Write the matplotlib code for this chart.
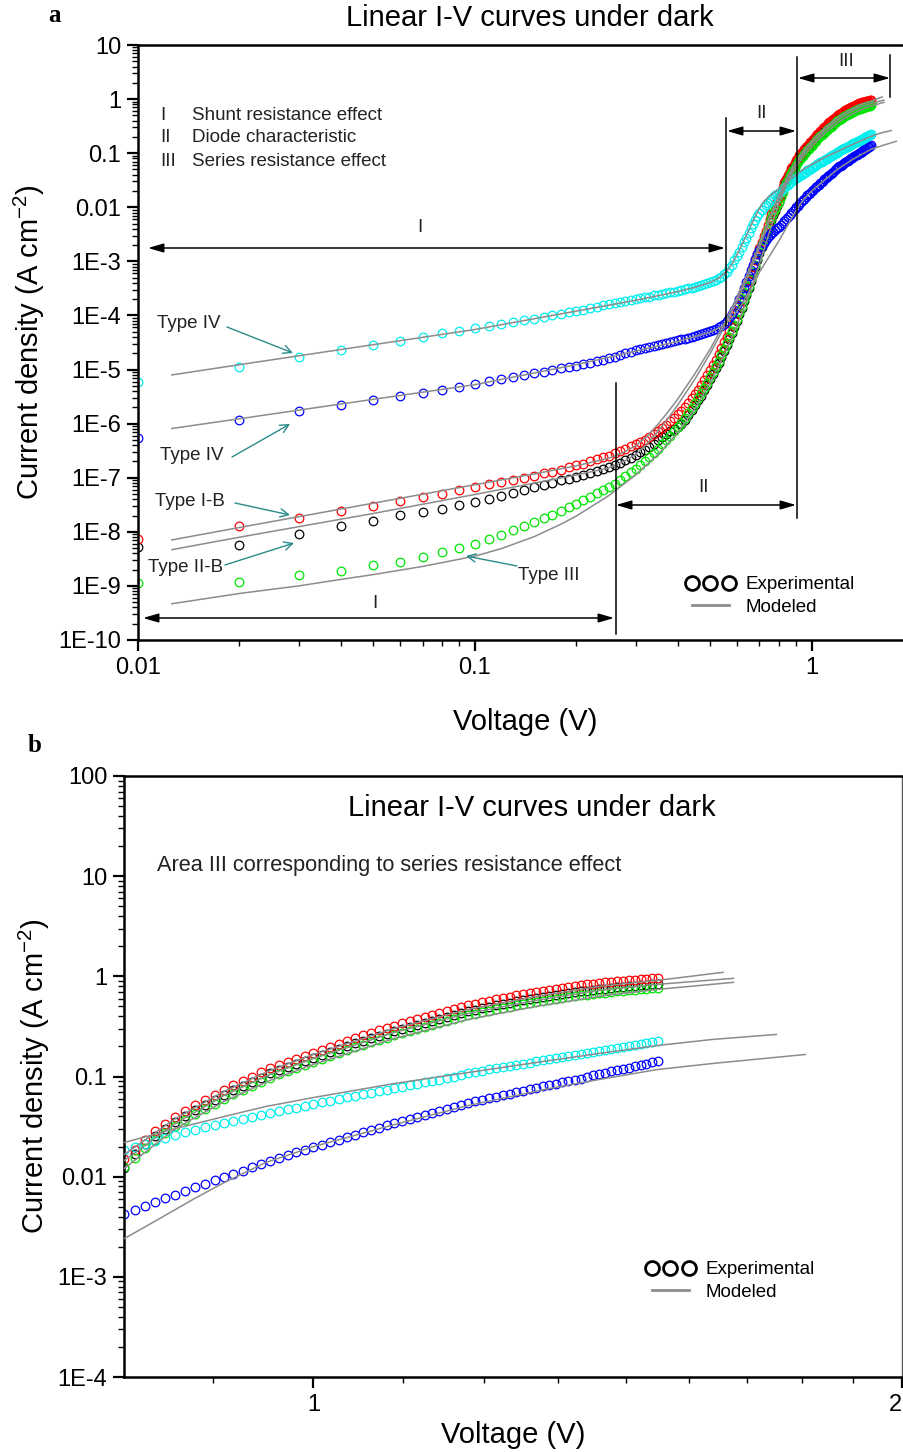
import numpy as np
import matplotlib
matplotlib.use("Agg")
import matplotlib.pyplot as plt
from matplotlib.lines import Line2D
from matplotlib.patches import FancyArrowPatch
from matplotlib.ticker import LogLocator, FixedLocator, NullFormatter

plt.rcParams['font.family'] = ['Liberation Sans', 'DejaVu Sans']
plt.rcParams['mathtext.fontset'] = 'custom'
plt.rcParams['mathtext.rm'] = 'Liberation Sans'

# measured bias points (V)
voltage = [
    0.01, 0.02, 0.03, 0.04, 0.05, 0.06, 0.07, 0.08, 0.09, 0.10,
    0.11, 0.12, 0.13, 0.14, 0.15, 0.16, 0.17, 0.18, 0.19, 0.20,
    0.21, 0.22, 0.23, 0.24, 0.25, 0.26, 0.27, 0.28, 0.29, 0.30,
    0.31, 0.32, 0.33, 0.34, 0.35, 0.36, 0.37, 0.38, 0.39, 0.40,
    0.41, 0.42, 0.43, 0.44, 0.45, 0.46, 0.47, 0.48, 0.49, 0.50,
    0.51, 0.52, 0.53, 0.54, 0.55, 0.56, 0.57, 0.58, 0.59, 0.60,
    0.61, 0.62, 0.63, 0.64, 0.65, 0.66, 0.67, 0.68, 0.69, 0.70,
    0.71, 0.72, 0.73, 0.74, 0.75, 0.76, 0.77, 0.78, 0.79, 0.80,
    0.81, 0.82, 0.83, 0.84, 0.85, 0.86, 0.87, 0.88, 0.89, 0.90,
    0.91, 0.92, 0.93, 0.94, 0.95, 0.96, 0.97, 0.98, 0.99, 1.00,
    1.01, 1.02, 1.03, 1.04, 1.05, 1.06, 1.07, 1.08, 1.09, 1.10,
    1.11, 1.12, 1.13, 1.14, 1.15, 1.16, 1.17, 1.18, 1.19, 1.20,
    1.21, 1.22, 1.23, 1.24, 1.25, 1.26, 1.27, 1.28, 1.29, 1.30,
    1.31, 1.32, 1.33, 1.34, 1.35, 1.36, 1.37, 1.38, 1.39, 1.40,
    1.41, 1.42, 1.43, 1.44, 1.45, 1.46, 1.47, 1.48, 1.49, 1.50,
]

# experimental current density, log10(J / A cm^-2)
cyan_log_j = [
    -5.23, -4.95, -4.77, -4.64, -4.55, -4.47, -4.40, -4.33, -4.28, -4.24,
    -4.20, -4.16, -4.12, -4.09, -4.06, -4.03, -4.00, -3.97, -3.94, -3.91,
    -3.89, -3.86, -3.84, -3.81, -3.79, -3.77, -3.75, -3.73, -3.71, -3.70,
    -3.68, -3.66, -3.65, -3.63, -3.62, -3.60, -3.59, -3.57, -3.56, -3.54,
    -3.53, -3.52, -3.50, -3.49, -3.47, -3.46, -3.44, -3.42, -3.40, -3.38,
    -3.36, -3.34, -3.31, -3.28, -3.24, -3.19, -3.13, -3.06, -2.98, -2.90,
    -2.82, -2.73, -2.64, -2.56, -2.47, -2.39, -2.31, -2.24, -2.17, -2.10,
    -2.05, -2.00, -1.96, -1.92, -1.88, -1.84, -1.81, -1.78, -1.76, -1.73,
    -1.70, -1.67, -1.64, -1.61, -1.58, -1.55, -1.53, -1.50, -1.48, -1.46,
    -1.44, -1.42, -1.40, -1.38, -1.36, -1.34, -1.32, -1.31, -1.29, -1.27,
    -1.25, -1.24, -1.22, -1.20, -1.19, -1.17, -1.16, -1.14, -1.13, -1.11,
    -1.10, -1.08, -1.07, -1.05, -1.04, -1.03, -1.01, -1.00, -0.99, -0.97,
    -0.96, -0.95, -0.93, -0.92, -0.91, -0.90, -0.89, -0.88, -0.87, -0.85,
    -0.84, -0.83, -0.82, -0.81, -0.80, -0.79, -0.78, -0.77, -0.76, -0.75,
    -0.74, -0.73, -0.72, -0.71, -0.70, -0.69, -0.68, -0.67, -0.66, -0.65,
]
blue_log_j = [
    -6.27, -5.94, -5.77, -5.65, -5.56, -5.49, -5.43, -5.37, -5.32, -5.27,
    -5.22, -5.17, -5.13, -5.10, -5.07, -5.04, -5.01, -4.98, -4.96, -4.93,
    -4.90, -4.87, -4.85, -4.82, -4.79, -4.76, -4.73, -4.70, -4.67, -4.64,
    -4.62, -4.60, -4.58, -4.56, -4.54, -4.52, -4.51, -4.49, -4.47, -4.46,
    -4.44, -4.43, -4.41, -4.40, -4.38, -4.36, -4.35, -4.33, -4.31, -4.29,
    -4.27, -4.25, -4.22, -4.19, -4.15, -4.10, -4.04, -3.97, -3.89, -3.80,
    -3.70, -3.60, -3.49, -3.38, -3.27, -3.16, -3.06, -2.96, -2.87, -2.79,
    -2.72, -2.66, -2.60, -2.55, -2.51, -2.48, -2.45, -2.42, -2.39, -2.37,
    -2.33, -2.29, -2.25, -2.21, -2.18, -2.14, -2.10, -2.07, -2.03, -2.00,
    -1.97, -1.94, -1.90, -1.87, -1.84, -1.81, -1.78, -1.75, -1.73, -1.70,
    -1.68, -1.65, -1.63, -1.60, -1.58, -1.55, -1.53, -1.51, -1.48, -1.46,
    -1.44, -1.42, -1.40, -1.38, -1.36, -1.34, -1.32, -1.30, -1.28, -1.26,
    -1.24, -1.23, -1.21, -1.20, -1.18, -1.17, -1.15, -1.14, -1.12, -1.11,
    -1.09, -1.08, -1.07, -1.05, -1.04, -1.03, -1.02, -1.00, -0.99, -0.98,
    -0.97, -0.95, -0.94, -0.93, -0.92, -0.90, -0.89, -0.88, -0.86, -0.85,
]
red_log_j = [
    -8.13, -7.89, -7.75, -7.61, -7.52, -7.43, -7.36, -7.30, -7.23, -7.17,
    -7.12, -7.08, -7.04, -7.00, -6.96, -6.92, -6.89, -6.85, -6.81, -6.77,
    -6.74, -6.70, -6.66, -6.62, -6.59, -6.55, -6.51, -6.47, -6.42, -6.38,
    -6.34, -6.30, -6.25, -6.20, -6.14, -6.08, -6.02, -5.96, -5.90, -5.83,
    -5.76, -5.69, -5.61, -5.53, -5.45, -5.37, -5.28, -5.19, -5.10, -5.01,
    -4.92, -4.82, -4.72, -4.61, -4.50, -4.39, -4.28, -4.17, -4.06, -3.94,
    -3.82, -3.70, -3.58, -3.46, -3.34, -3.22, -3.10, -2.98, -2.87, -2.76,
    -2.65, -2.54, -2.43, -2.32, -2.22, -2.12, -2.03, -1.95, -1.88, -1.82,
    -1.73, -1.63, -1.54, -1.47, -1.40, -1.34, -1.28, -1.23, -1.18, -1.13,
    -1.08, -1.04, -1.00, -0.96, -0.92, -0.89, -0.86, -0.83, -0.80, -0.77,
    -0.74, -0.71, -0.68, -0.65, -0.62, -0.59, -0.57, -0.54, -0.52, -0.50,
    -0.47, -0.45, -0.43, -0.41, -0.39, -0.37, -0.35, -0.33, -0.31, -0.29,
    -0.28, -0.26, -0.25, -0.23, -0.22, -0.21, -0.19, -0.18, -0.17, -0.16,
    -0.15, -0.14, -0.13, -0.12, -0.11, -0.10, -0.09, -0.08, -0.08, -0.07,
    -0.06, -0.06, -0.05, -0.05, -0.04, -0.04, -0.03, -0.03, -0.02, -0.02,
]
black_log_j = [
    -8.28, -8.24, -8.04, -7.89, -7.80, -7.68, -7.63, -7.57, -7.50, -7.44,
    -7.39, -7.34, -7.28, -7.23, -7.18, -7.14, -7.09, -7.05, -7.02, -6.98,
    -6.95, -6.91, -6.88, -6.84, -6.80, -6.76, -6.72, -6.68, -6.63, -6.58,
    -6.53, -6.48, -6.43, -6.37, -6.31, -6.24, -6.19, -6.14, -6.10, -6.07,
    -6.01, -5.93, -5.84, -5.75, -5.66, -5.57, -5.48, -5.38, -5.28, -5.18,
    -5.08, -4.98, -4.88, -4.77, -4.66, -4.55, -4.44, -4.33, -4.22, -4.10,
    -3.98, -3.86, -3.74, -3.62, -3.50, -3.37, -3.24, -3.11, -2.98, -2.85,
    -2.74, -2.64, -2.54, -2.44, -2.34, -2.24, -2.15, -2.06, -1.98, -1.91,
    -1.77, -1.67, -1.59, -1.52, -1.45, -1.39, -1.33, -1.28, -1.23, -1.18,
    -1.13, -1.09, -1.05, -1.01, -0.97, -0.94, -0.91, -0.88, -0.85, -0.82,
    -0.79, -0.76, -0.73, -0.70, -0.67, -0.65, -0.62, -0.60, -0.58, -0.55,
    -0.53, -0.51, -0.49, -0.47, -0.45, -0.43, -0.41, -0.39, -0.37, -0.35,
    -0.34, -0.32, -0.31, -0.29, -0.28, -0.27, -0.25, -0.24, -0.23, -0.22,
    -0.21, -0.20, -0.19, -0.18, -0.17, -0.16, -0.15, -0.145, -0.14, -0.13,
    -0.125, -0.12, -0.11, -0.105, -0.10, -0.095, -0.09, -0.085, -0.08, -0.075,
]
green_log_j = [
    -8.95, -8.93, -8.80, -8.72, -8.62, -8.55, -8.46, -8.38, -8.30, -8.23,
    -8.14, -8.05, -7.97, -7.89, -7.82, -7.75, -7.68, -7.61, -7.54, -7.48,
    -7.42, -7.35, -7.29, -7.23, -7.17, -7.11, -7.04, -6.97, -6.90, -6.83,
    -6.76, -6.69, -6.61, -6.54, -6.46, -6.38, -6.30, -6.22, -6.14, -6.06,
    -5.98, -5.89, -5.80, -5.71, -5.62, -5.53, -5.44, -5.34, -5.24, -5.14,
    -5.04, -4.94, -4.84, -4.73, -4.62, -4.51, -4.40, -4.29, -4.18, -4.06,
    -3.94, -3.82, -3.70, -3.58, -3.46, -3.33, -3.20, -3.07, -2.94, -2.81,
    -2.70, -2.60, -2.50, -2.40, -2.30, -2.20, -2.11, -2.03, -1.96, -1.90,
    -1.81, -1.71, -1.63, -1.56, -1.49, -1.43, -1.37, -1.32, -1.27, -1.22,
    -1.17, -1.13, -1.09, -1.05, -1.01, -0.98, -0.95, -0.92, -0.89, -0.86,
    -0.83, -0.80, -0.77, -0.74, -0.71, -0.69, -0.66, -0.64, -0.62, -0.59,
    -0.57, -0.55, -0.53, -0.51, -0.49, -0.47, -0.45, -0.43, -0.41, -0.39,
    -0.38, -0.36, -0.35, -0.33, -0.32, -0.31, -0.29, -0.28, -0.27, -0.26,
    -0.25, -0.24, -0.23, -0.22, -0.21, -0.20, -0.19, -0.185, -0.18, -0.17,
    -0.165, -0.16, -0.15, -0.145, -0.14, -0.135, -0.13, -0.125, -0.12, -0.115,
]

# modeled curves (vertices)
cyan_model_v = [0.0126, 0.02, 0.05, 0.1, 0.2, 0.3, 0.4, 0.45, 0.5, 0.53, 0.56, 0.58,
                0.6, 0.62, 0.64, 0.66, 0.68, 0.7, 0.72, 0.75, 0.8, 0.85, 0.9, 0.945,
                1.0, 1.1, 1.2, 1.3, 1.4, 1.5, 1.6, 1.725]
cyan_model_log_j = [-5.10, -4.91, -4.54, -4.26, -3.92, -3.72, -3.56, -3.48, -3.39, -3.31, -3.18, -3.05,
                    -2.88, -2.70, -2.52, -2.34, -2.17, -2.02, -1.90, -1.79, -1.66, -1.52, -1.40, -1.30,
                    -1.21, -1.07, -0.96, -0.86, -0.77, -0.69, -0.63, -0.58]
blue_model_v = [0.0126, 0.02, 0.05, 0.1, 0.2, 0.3, 0.4, 0.5, 0.55, 0.58, 0.6, 0.62, 0.65,
                0.68, 0.7, 0.75, 0.8, 0.834, 0.869, 0.9, 0.945, 1.0, 1.1, 1.2, 1.32, 1.4,
                1.5, 1.6, 1.785]
blue_model_log_j = [-6.09, -5.91, -5.55, -5.28, -4.91, -4.66, -4.48, -4.31, -4.18, -4.04, -3.93, -3.80, -3.58,
                    -3.35, -3.20, -2.90, -2.62, -2.42, -2.22, -2.06, -1.86, -1.70, -1.48, -1.29, -1.12, -1.03,
                    -0.93, -0.87, -0.78]
red_model_v = [0.0126, 0.02, 0.05, 0.1, 0.15, 0.2, 0.25, 0.275, 0.3, 0.325, 0.35, 0.375, 0.4, 0.45, 0.5,
               0.55, 0.6, 0.65, 0.7, 0.75, 0.8, 0.85, 0.9, 0.95, 1.0, 1.1, 1.2, 1.3, 1.4, 1.5, 1.62]
red_model_log_j = [-8.15, -7.92, -7.47, -7.13, -6.93, -6.78, -6.64, -6.54, -6.41, -6.23, -6.01, -5.78, -5.55,
                   -5.08, -4.62, -4.15, -3.67, -3.18, -2.68, -2.18, -1.78, -1.42, -1.15, -0.94, -0.78, -0.52,
                   -0.33, -0.20, -0.10, -0.04, 0.04]
black_model_v = [0.0126, 0.02, 0.05, 0.1, 0.15, 0.2, 0.25, 0.275, 0.3, 0.325, 0.35, 0.375, 0.4, 0.45, 0.5,
                 0.55, 0.6, 0.65, 0.7, 0.75, 0.8, 0.85, 0.9, 0.95, 1.0, 1.1, 1.2, 1.3, 1.4, 1.5, 1.64]
black_model_log_j = [-8.33, -8.10, -7.66, -7.31, -7.10, -6.95, -6.82, -6.71, -6.57, -6.37, -6.14, -5.90, -5.66,
                     -5.18, -4.70, -4.22, -3.74, -3.25, -2.75, -2.25, -1.84, -1.47, -1.19, -0.98, -0.82, -0.56,
                     -0.37, -0.24, -0.14, -0.08, -0.02]
green_model_v = [0.0126, 0.02, 0.03, 0.04, 0.05, 0.07, 0.1, 0.12, 0.15, 0.18, 0.2, 0.25, 0.3, 0.35, 0.4,
                 0.45, 0.5, 0.55, 0.6, 0.65, 0.7, 0.75, 0.8, 0.85, 0.9, 0.95, 1.0, 1.1, 1.2, 1.3, 1.4,
                 1.5, 1.64]
green_model_log_j = [-9.33, -9.14, -9.00, -8.88, -8.79, -8.64, -8.45, -8.31, -8.09, -7.86, -7.71, -7.33,
                     -6.95, -6.57, -6.17, -5.73, -5.25, -4.73, -4.19, -3.63, -3.05, -2.45, -1.92, -1.52,
                     -1.25, -1.04, -0.88, -0.62, -0.43, -0.30, -0.20, -0.13, -0.06]

series = [
    (black_log_j, black_model_v, black_model_log_j, 'black'),
    (red_log_j, red_model_v, red_model_log_j, 'red'),
    (green_log_j, green_model_v, green_model_log_j, '#00e600'),
    (blue_log_j, blue_model_v, blue_model_log_j, '#0000ff'),
    (cyan_log_j, cyan_model_v, cyan_model_log_j, '#00eeee'),
]

W, H = 904, 1452
TEAL = '#2b8a8a'
GREY = '#8c8c8c'


def box(left, top, right, bottom):
    return [left / W, 1 - bottom / H, (right - left) / W, (bottom - top) / H]


def fp(x, y):
    # pixel position -> figure fraction
    return (x / W, 1 - y / H)


fig = plt.figure(figsize=(W / 100, H / 100), dpi=100)
ax_a = fig.add_axes(box(138, 45, 913, 640))
ax_b = fig.add_axes(box(124, 776, 902, 1377))


def style(ax):
    ax.set_xscale('log')
    ax.set_yscale('log')
    for s in ax.spines.values():
        s.set_linewidth(1.8)
    ax.spines['right'].set_linewidth(1.0)
    ax.spines['right'].set_color('#555555')
    ax.tick_params(which='both', direction='out', top=False, right=False)
    ax.tick_params(which='major', length=8, width=1.6, labelsize=17, pad=4)
    ax.tick_params(which='minor', length=4, width=1.0)
    ax.yaxis.set_minor_locator(LogLocator(base=10, subs=np.arange(2, 10), numticks=100))
    ax.yaxis.set_minor_formatter(NullFormatter())
    ax.xaxis.set_minor_formatter(NullFormatter())


for ax in (ax_a, ax_b):
    style(ax)
    for log_j, mv, mlog, color in series:
        ax.plot(voltage, 10 ** np.array(log_j), ls='none', marker='o', ms=6.2,
                mfc='none', mec=color, mew=0.9, zorder=2)
    for log_j, mv, mlog, color in series:
        ax.plot(mv, 10 ** np.array(mlog), color=GREY, lw=1.1, zorder=3)

# panel a axes
ax_a.set_xlim(0.01, 2)
ax_a.set_ylim(1e-10, 10)
ax_a.set_xticks([0.01, 0.1, 1])
ax_a.set_xticklabels(['0.01', '0.1', '1'])
ax_a.xaxis.set_minor_locator(LogLocator(base=10, subs=np.arange(2, 10), numticks=100))
ax_a.set_yticks([10.0 ** k for k in range(-10, 2)])
ax_a.set_yticklabels(['1E-10', '1E-9', '1E-8', '1E-7', '1E-6', '1E-5', '1E-4', '1E-3',
                      '0.01', '0.1', '1', '10'])
ax_a.set_xlabel('Voltage (V)', fontsize=21, labelpad=21)
ax_a.set_ylabel('Current density (A cm$^{-2}$)', fontsize=21, labelpad=8)

# panel b axes
ax_b.set_xlim(0.8, 2)
ax_b.set_ylim(1e-4, 100)
ax_b.set_xticks([1, 2])
ax_b.set_xticklabels(['1', '2'])
ax_b.get_xticklabels()[1].set_horizontalalignment('right')
ax_b.xaxis.set_minor_locator(FixedLocator([1 - 1 / 9] + [1 + k / 9 for k in range(1, 9)]))
ax_b.set_yticks([10.0 ** k for k in range(-4, 3)])
ax_b.set_yticklabels(['1E-4', '1E-3', '0.01', '0.1', '1', '10', '100'])
ax_b.set_xlabel('Voltage (V)', fontsize=21, labelpad=4)
ax_b.set_ylabel('Current density (A cm$^{-2}$)', fontsize=21, labelpad=4)

# titles and panel letters
fig.text(*fp(530, 18), 'Linear I-V curves under dark', fontsize=21, ha='center', va='center')
fig.text(*fp(532, 808), 'Linear I-V curves under dark', fontsize=21, ha='center', va='center')
fig.text(*fp(157, 865), 'Area III corresponding to series resistance effect', fontsize=15.7,
         ha='left', va='center', color='#222222')
fig.text(*fp(55, 16), 'a', family='Liberation Serif', weight='bold', fontsize=18, ha='center', va='center')
fig.text(*fp(35, 745), 'b', family='Liberation Serif', weight='bold', fontsize=18, ha='center', va='center')

# region key
for roman, desc, y in [('I', 'Shunt resistance effect', 116), ('II', 'Diode characteristic', 138),
                       ('III', 'Series resistance effect', 162)]:
    fig.text(*fp(160, y), roman, fontsize=13.5, va='center', color='#222222')
    fig.text(*fp(192, y), desc, fontsize=13.5, va='center', color='#222222')

# region spans (double arrows) and boundaries
dbl = dict(arrowstyle='<|-|>,head_length=0.55,head_width=0.16', color='black', lw=1.1,
           mutation_scale=17, shrinkA=0, shrinkB=0)
for x1, x2, y, label, lx, ly in [(148, 725, 248, 'I', 420, 228), (143, 614, 618, 'I', 375, 603),
                                 (727, 796, 131, 'II', 762, 113), (616, 796, 505, 'II', 704, 487),
                                 (798, 890, 78, 'III', 846, 62)]:
    fig.add_artist(FancyArrowPatch(fp(x1, y), fp(x2, y), transform=fig.transFigure, **dbl))
    fig.text(*fp(lx, ly), label, fontsize=13.5, ha='center', va='center', color='#222222')
for x, y1, y2 in [(726.5, 118, 326), (615.5, 383, 634), (796.5, 57, 518), (890, 55, 97)]:
    fig.add_artist(Line2D([x / W, x / W], [1 - y1 / H, 1 - y2 / H], color='black', lw=1.1,
                          transform=fig.transFigure))

# type callouts
for label, tx, ty, a0, a1 in [('Type IV', 157, 324, (227, 327), (293, 353)),
                              ('Type IV', 160, 455, (232, 457), (290, 424)),
                              ('Type I-B', 155, 501, (235, 503), (290, 515)),
                              ('Type II-B', 148, 568, (225, 565), (294, 543)),
                              ('Type III', 518, 575, (517, 566), (466, 556))]:
    fig.text(*fp(tx, ty), label, fontsize=13.5, ha='left', va='center', color='#222222')
    fig.add_artist(FancyArrowPatch(
        fp(*a0), fp(*a1), transform=fig.transFigure,
        arrowstyle='->,head_length=0.5,head_width=0.25', mutation_scale=12,
        color=TEAL, lw=1.0, shrinkA=0, shrinkB=0))

# legends
handles = [Line2D([], [], ls='none', marker='o', ms=10, mfc='none', mec='black', mew=2.0),
           Line2D([], [], color=GREY, lw=2)]
for ax, x, y in [(ax_a, 686, 596), (ax_b, 646, 1281)]:
    ax.legend(handles, ['Experimental', 'Modeled'], numpoints=3, frameon=False, fontsize=13.5,
              loc='center left', bbox_to_anchor=fp(x, y), bbox_transform=fig.transFigure,
              handlelength=2.6, handletextpad=0.6, labelspacing=0.3, borderpad=0, borderaxespad=0)

fig.savefig('out.png', dpi=100)
